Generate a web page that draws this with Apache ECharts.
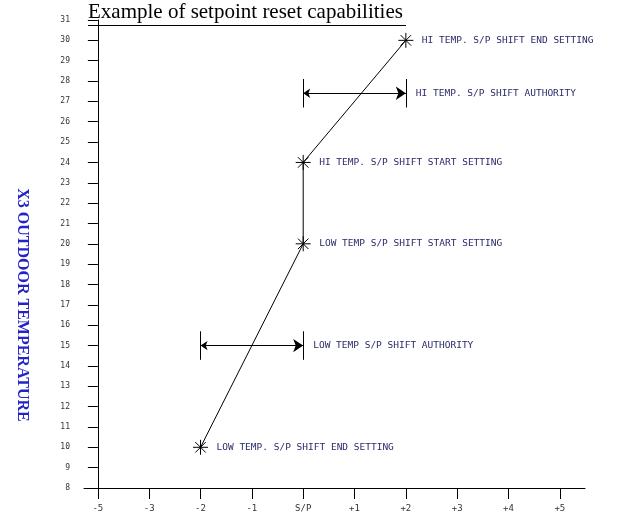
<!DOCTYPE html>
<html><head><meta charset="utf-8">
<script src="https://cdn.jsdelivr.net/npm/echarts@6/dist/echarts.min.js"></script>
<style>html,body{margin:0;padding:0;background:#fff}#c{width:636px;height:522px}</style>
</head><body><div id="c"></div>
<script>
const xTickLabels = ['-5','-3','-2','-1','S/P','+1','+2','+3','+4','+5'];
const xTickPos = [0,1,2,3,4,5,6,7,8,9];
const yTicks = [8,9,10,11,12,13,14,15,16,17,18,19,20,21,22,23,24,25,26,27,28,29,30,31];
const resetX = [2,4,4,6];
const resetY = [10,20,24,30];
const pointLabels = ['LOW TEMP. S/P SHIFT END SETTING','LOW TEMP S/P SHIFT START SETTING','HI TEMP. S/P SHIFT START SETTING','HI TEMP. S/P SHIFT END SETTING'];
const authFrom = [2,4];
const authTo = [4,6];
const authY = [15,27.4];
const authLabels = ['LOW TEMP S/P SHIFT AUTHORITY','HI TEMP. S/P SHIFT AUTHORITY'];

const star = 'path://M0,-1L0,1M-1,0L1,0M-0.7,-0.7L0.7,0.7M-0.7,0.7L0.7,-0.7';
const lblColor = '#2a2a6a';
const lblFont = {fontFamily:'DejaVu Sans Mono', fontSize:9.5, color:lblColor, opacity:1};
const chart = echarts.init(document.getElementById('c'));
const series = [
 {type:'line', data:resetX.map((x,i)=>[x,resetY[i]]), symbol:star, symbolSize:15,
  lineStyle:{color:'#000',width:1}, itemStyle:{color:'rgba(0,0,0,0)',borderColor:'#000',borderWidth:1},
  label:{show:true, position:'right', distance:8, ...lblFont, formatter:p=>pointLabels[p.dataIndex]}, z:5},
 {type:'lines', coordinateSystem:'cartesian2d', symbol:['arrow','arrow'], symbolSize:[7,10],
  lineStyle:{color:'#000',width:1, opacity:1},
  data:authY.map((y,i)=>({coords:[[authFrom[i],y],[authTo[i],y]]}))},
 {type:'lines', coordinateSystem:'cartesian2d', lineStyle:{color:'#000',width:1,opacity:1},
  data:authY.flatMap((y,i)=>[{coords:[[authFrom[i],y-0.7],[authFrom[i],y+0.7]]},{coords:[[authTo[i],y-0.7],[authTo[i],y+0.7]]}])},
 {type:'line', symbol:'none', lineStyle:{width:0}, z:6, data:authY.map((y,i)=>[authTo[i],y]),
  endLabel:{show:false},
  markPoint:{symbolSize:0, data:authY.map((y,i)=>({coord:[authTo[i],y], name:authLabels[i]})),
   label:{show:true, position:'right', distance:10, ...lblFont, formatter:p=>p.name}}}
];
chart.setOption({
 animation:false,
 grid:{left:84,right:51,top:20,bottom:34},
 xAxis:{type:'value', min:-0.27, max:9.49, splitLine:{show:false},
  axisLine:{lineStyle:{color:'#000'}},
  axisTick:{customValues:xTickPos, length:11, inside:false, lineStyle:{color:'#000'}},
  axisLabel:{customValues:xTickPos, formatter:v=>xTickLabels[Math.round(v)]??'', margin:16,
   fontFamily:'DejaVu Sans Mono', fontSize:9, color:'#333'}},
 yAxis:{type:'value', min:8, max:31, interval:1, splitLine:{show:false},
  axisLine:{show:true,lineStyle:{color:'#000'}}, axisTick:{length:10,lineStyle:{color:'#000'}},
  axisLabel:{margin:14, fontFamily:'DejaVu Sans Mono', fontSize:8, color:'#333'}},
 graphic:[
  {type:'text', left:88, top:2, style:{text:'Example of setpoint reset capabilities', font:'21px "Liberation Serif"', fill:'#000'}},
  {type:'rect', left:88, top:25, shape:{width:318,height:1}, style:{fill:'#000'}},
  {type:'text', x:22, y:305, rotation:-Math.PI/2, style:{text:'X3 OUTDOOR TEMPERATURE', font:'bold 16px "Liberation Serif"', fill:'#2323c8', align:'center', verticalAlign:'middle'}}
 ],
 series
});
</script></body></html>
